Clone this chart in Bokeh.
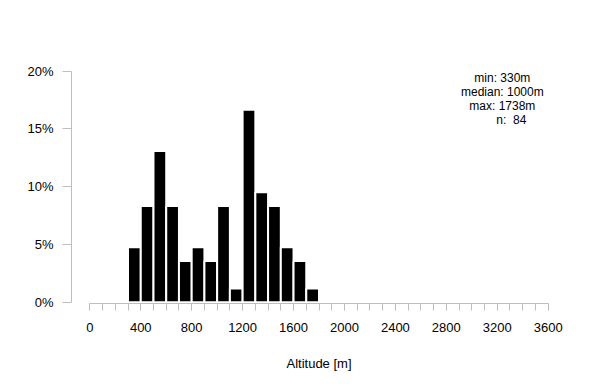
from bokeh.plotting import figure
from bokeh.models import Range1d, SingleIntervalTicker, FixedTicker, PrintfTickFormatter, Label
from bokeh.embed import file_html
from bokeh.resources import INLINE

# ---- data ----
bin_left = [300, 400, 500, 600, 700, 800, 900, 1000, 1100, 1200, 1300, 1400, 1500, 1600, 1700]
bin_width = 100
counts = [4, 7, 11, 7, 3, 4, 3, 7, 1, 14, 8, 7, 4, 3, 1]
n_obs = 84
stat_min = 330
stat_median = 1000
stat_max = 1738
x_tick_step = 400
x_axis_limits = (0, 3600)
y_ticks = [0, 5, 10, 15, 20]

pct = [c / n_obs * 100 for c in counts]
bin_right = [l + bin_width for l in bin_left]

FONT = "Liberation Sans"
GRAY = "#bebebe"

p = figure(width=600, height=390, output_backend="svg", toolbar_location=None,
           x_range=Range1d(-144, 3744), y_range=Range1d(-0.113, 20.75),
           min_border_left=71, min_border_right=34, min_border_top=62, min_border_bottom=87)

p.quad(left=bin_left, right=bin_right, bottom=0, top=pct,
       fill_color="black", line_color="white", line_width=2)

p.xgrid.visible = False
p.ygrid.visible = False
p.outline_line_color = None
p.background_fill_color = "white"
p.border_fill_color = "white"

xa = p.xaxis[0]
xa.ticker = SingleIntervalTicker(interval=x_tick_step, num_minor_ticks=4)
xa.bounds = x_axis_limits
xa.axis_line_color = GRAY
xa.major_tick_line_color = GRAY
xa.minor_tick_line_color = GRAY
xa.major_tick_in = 0
xa.major_tick_out = 7
xa.minor_tick_in = 0
xa.minor_tick_out = 7
xa.major_label_text_font = FONT
xa.major_label_text_font_size = "13px"
xa.major_label_text_color = "black"
xa.major_label_standoff = 12
xa.axis_label = "Altitude [m]"
xa.axis_label_text_font = FONT
xa.axis_label_text_font_size = "13px"
xa.axis_label_text_font_style = "normal"
xa.axis_label_text_color = "black"
xa.axis_label_standoff = 21

ya = p.yaxis[0]
ya.ticker = FixedTicker(ticks=y_ticks, minor_ticks=[])
ya.formatter = PrintfTickFormatter(format="%d%%")
ya.bounds = (y_ticks[0], y_ticks[-1])
ya.axis_line_color = GRAY
ya.major_tick_line_color = GRAY
ya.minor_tick_line_color = None
ya.major_tick_in = 0
ya.major_tick_out = 9
ya.major_label_text_font = FONT
ya.major_label_text_font_size = "13px"
ya.major_label_text_color = "black"
ya.major_label_standoff = 9

stat_lines = [f"min: {stat_min}m", f"median: {stat_median}m", f"max: {stat_max}m", f"n:\u00a0\u00a0{n_obs}"]
line_y = [19.39, 18.18, 16.97, 15.76]
x_offsets = [0, 0, 0, 9]
for txt, yy, xo in zip(stat_lines, line_y, x_offsets):
    p.add_layout(Label(x=3240, y=yy, x_offset=xo, text=txt, text_align="center", text_baseline="middle",
                       text_font=FONT, text_font_size="12px", text_color="black"))

open("out.html", "w").write(file_html(p, INLINE))
